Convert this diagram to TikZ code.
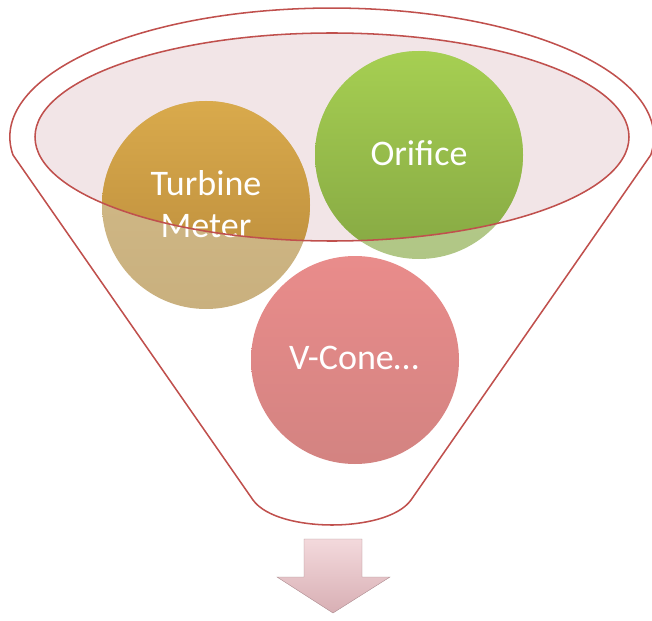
\documentclass[tikz,border=0pt]{standalone}
\usepackage{fontspec}
\setmainfont{Carlito}
\usepackage{tikz}
\usetikzlibrary{positioning}
\definecolor{funnelred}{HTML}{C0504D}
\definecolor{mouthfill}{HTML}{F2E5E7}
\definecolor{goldtop}{HTML}{D9AA4C}
\definecolor{goldbottom}{HTML}{B8893A}
\definecolor{goldpale}{HTML}{D3BC8A}
\definecolor{goldpaledark}{HTML}{C9B07E}
\definecolor{greentop}{HTML}{A6CF52}
\definecolor{greenbottom}{HTML}{86A843}
\definecolor{greenpale}{HTML}{BCD193}
\definecolor{greenpaledark}{HTML}{B0C685}
\definecolor{conetop}{HTML}{E98C8B}
\definecolor{conebottom}{HTML}{D38381}
\definecolor{arrowtop}{HTML}{F3D9DC}
\definecolor{arrowbottom}{HTML}{D8AFB4}

\begin{document}
\begin{tikzpicture}[x=0.75pt, y=-0.75pt,
    bubble/.style={circle, inner sep=0pt, minimum size=156pt},
    bubbletext/.style={text=white, align=center, font=\fontsize{27}{31.5}\selectfont},
    funnelline/.style={funnelred, line width=1.15pt}]
    \useasboundingbox (0,0) rectangle (652,620);

    % Funnel mouth
    \fill[mouthfill] (332,137) ellipse [x radius=297, y radius=104];

    % Bubbles
    \node[bubble, top color=goldpale, bottom color=goldpaledark] (turbine) at (206,205) {};
    \node[bubble, top color=greenpale, bottom color=greenpaledark] (orifice) at (419,155) {};
    \node[bubble, top color=conetop, bottom color=conebottom] (vcone) at (355,360) {};

    % Parts of the bubbles inside the mouth
    \begin{scope}
        \clip (332,137) ellipse [x radius=297, y radius=104];
        \shade[top color=goldtop, bottom color=goldbottom] (turbine.center) circle [radius=104];
        \shade[top color=greentop, bottom color=greenbottom] (orifice.center) circle [radius=104];
    \end{scope}

    % Labels
    \node[bubbletext] (turbinetext) at (206,204) {Turbine\\Meter};
    \node[bubbletext] (orificetext) at (419,153) {Orifice};
    \node[bubbletext] (vconetext) at (354,358) {V-Cone…};

    % Mouth rim
    \draw[funnelline] (332,137) ellipse [x radius=297, y radius=104];

    % Funnel outline
    \draw[funnelline] (13,155) arc [start angle=172, end angle=368, x radius=322, y radius=129]
        -- (411,500) .. controls (398,518) and (362,525) .. (332,525)
        .. controls (302,525) and (266,518) .. (253,500) -- cycle;

    % Arrow down
    \shade[top color=arrowtop, bottom color=arrowbottom, draw=arrowbottom!80!black, line width=0.3pt]
        (304,539) -- (362,539) -- (362,577) -- (390,577) -- (333,613) -- (277,577) -- (304,577) -- cycle;
\end{tikzpicture}
\end{document}
